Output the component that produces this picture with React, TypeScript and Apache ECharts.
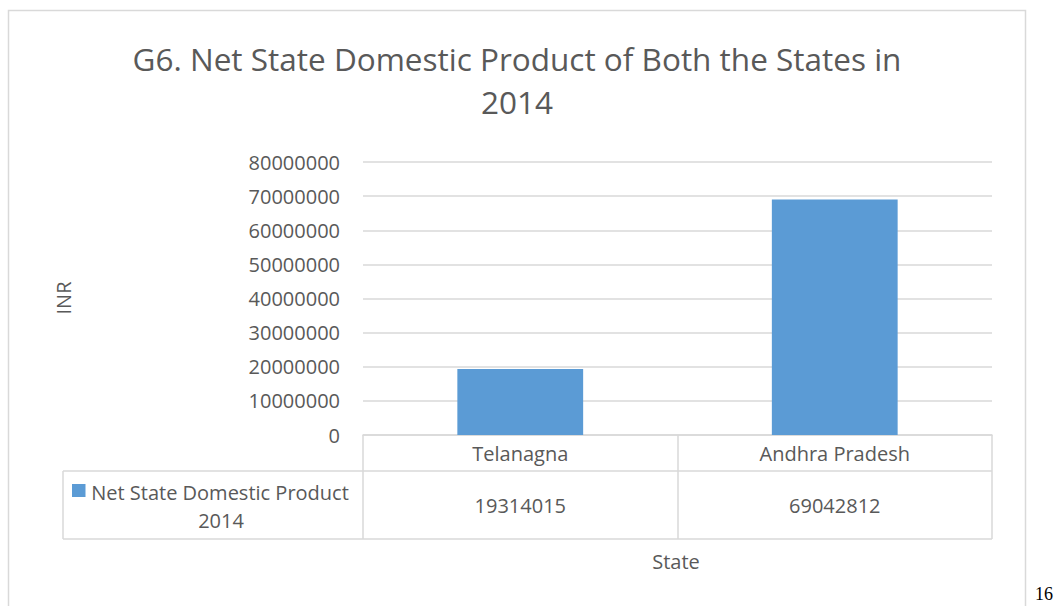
import React, { useEffect, useRef } from "react";
import * as echarts from "echarts";

const categories = ["Telanagna", "Andhra Pradesh"];
const seriesName = "Net State Domestic Product 2014";
const values = [19314015, 69042812];
const yTicks = { min: 0, max: 80000000, interval: 10000000 };
const titleText = "G6. Net State Domestic Product of Both the States in\n2014";
const yName = "INR";
const xName = "State";
const pageNumber = "16";

const FONT = "'Open Sans', sans-serif";
const TXT = "#595959";
const LINE = "#d9d9d9";
const BAR = "#5B9BD5";

export default function App() {
  const ref = useRef<HTMLDivElement>(null);
  useEffect(() => {
    const chart = echarts.init(ref.current!, null, { renderer: "svg" });
    const gridLeft = 363;
    const gridRight = 992;
    const gridTop = 162;
    const gridBottom = 435;
    const row1 = 471;
    const row2 = 539;
    const tableLeft = 63;
    chart.setOption({
      animation: false,
      backgroundColor: "#fff",
      title: {
        text: titleText,
        left: 512,
        textAlign: "center",
        top: 32,
        textStyle: { fontFamily: FONT, fontSize: 31.5, fontWeight: "normal", color: TXT, lineHeight: 43 },
      },
      grid: { left: gridLeft, right: 1055 - gridRight, top: gridTop, bottom: 606 - gridBottom, containLabel: false },
      xAxis: {
        type: "category",
        data: categories,
        axisLine: { show: true, lineStyle: { color: LINE, width: 1.5 } },
        axisTick: { show: true, length: row2 - gridBottom, lineStyle: { color: LINE, width: 1.5 } },
        axisLabel: { fontFamily: FONT, fontSize: 20, color: TXT, margin: 8 },
      },
      yAxis: {
        type: "value",
        min: yTicks.min,
        max: yTicks.max,
        interval: yTicks.interval,
        axisLine: { show: false },
        axisTick: { show: false },
        axisLabel: { fontFamily: FONT, fontSize: 20, color: TXT, margin: 23, formatter: (v: number) => String(v) },
        splitLine: { lineStyle: { color: LINE, width: 1.5 } },
      },
      series: [
        {
          type: "bar",
          name: seriesName,
          data: values,
          barCategoryGap: "60%",
          itemStyle: { color: BAR },
        },
      ],
    });

    const texts: any[] = [];
    categories.forEach((c, i) => {
      const x = chart.convertToPixel({ xAxisIndex: 0 }, c) as number;
      texts.push({
        type: "text",
        x,
        y: (row1 + row2) / 2,
        style: { text: String(values[i]), fontFamily: FONT, fontSize: 20, fill: TXT, align: "center", verticalAlign: "middle" },
      });
    });

    chart.setOption({
      graphic: [
        { type: "rect", shape: { x: 8.5, y: 10.5, width: 1017, height: 620 }, style: { fill: "none", stroke: LINE, lineWidth: 1.5 } },
        { type: "line", shape: { x1: tableLeft, y1: row1, x2: gridRight, y2: row1 }, style: { stroke: LINE, lineWidth: 1.5 } },
        { type: "line", shape: { x1: tableLeft, y1: row2, x2: gridRight, y2: row2 }, style: { stroke: LINE, lineWidth: 1.5 } },
        { type: "line", shape: { x1: tableLeft, y1: row1, x2: tableLeft, y2: row2 }, style: { stroke: LINE, lineWidth: 1.5 } },
        { type: "rect", shape: { x: 72, y: 484, width: 13.5, height: 13 }, style: { fill: BAR } },
        {
          type: "text",
          x: 220,
          y: 492,
          style: { text: "Net State Domestic Product", fontFamily: FONT, fontSize: 20, fill: TXT, align: "center", verticalAlign: "middle" },
        },
        {
          type: "text",
          x: 221,
          y: 520,
          style: { text: "2014", fontFamily: FONT, fontSize: 20, fill: TXT, align: "center", verticalAlign: "middle" },
        },
        ...texts,
        {
          type: "text",
          x: 63,
          y: 298,
          rotation: Math.PI / 2,
          style: { text: yName, fontFamily: FONT, fontSize: 20, fill: TXT, align: "center", verticalAlign: "middle" },
        },
        {
          type: "text",
          x: 676,
          y: 561,
          style: { text: xName, fontFamily: FONT, fontSize: 20, fill: TXT, align: "center", verticalAlign: "middle" },
        },
        {
          type: "text",
          x: 1044,
          y: 594,
          style: { text: pageNumber, fontFamily: "'Liberation Serif', serif", fontSize: 18, fill: "#000", align: "center", verticalAlign: "middle" },
        },
      ],
    });
    return () => chart.dispose();
  }, []);
  return <div ref={ref} style={{ position: "fixed", left: 0, top: 0, width: 1055, height: 606 }} />;
}
